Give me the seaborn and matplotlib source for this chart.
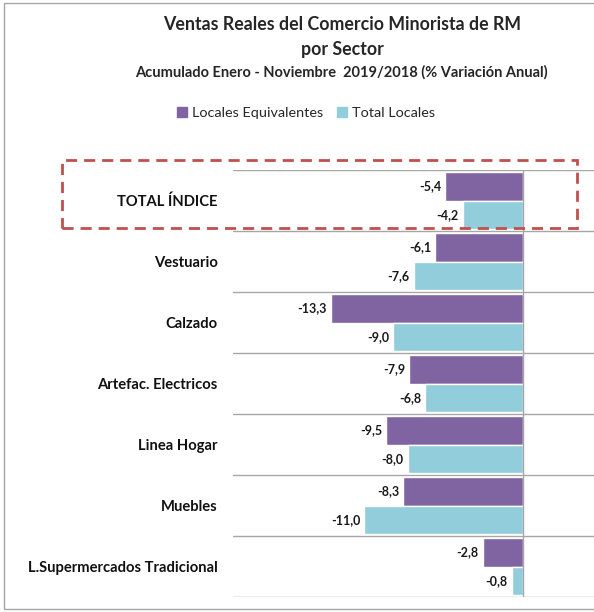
import pandas as pd
import matplotlib
matplotlib.use("Agg")
import matplotlib.pyplot as plt
from matplotlib.patches import Rectangle
import seaborn as sns

# data
sectores = ["TOTAL ÍNDICE", "Vestuario", "Calzado", "Artefac. Electricos",
            "Linea Hogar", "Muebles", "L.Supermercados Tradicional"]
locales_equivalentes = [-5.4, -6.1, -13.3, -7.9, -9.5, -8.3, -2.8]
total_locales = [-4.2, -7.6, -9.0, -6.8, -8.0, -11.0, -0.8]
series = ["Locales Equivalentes", "Total Locales"]
colores = ["#8064A2", "#92CDDC"]

df = pd.DataFrame({
    "sector": sectores * 2,
    "serie": [series[0]] * len(sectores) + [series[1]] * len(sectores),
    "valor": locales_equivalentes + total_locales,
})

sns.set_theme(style="white")
plt.rcParams["font.family"] = ["Lato", "DejaVu Sans"]

fig = plt.figure(figsize=(5.94, 6.12), dpi=100)
ax = fig.add_axes([233 / 594, 1 - 597 / 612, 1 - 233 / 594, (597 - 170) / 612])

sns.barplot(data=df, y="sector", x="valor", hue="serie", order=sectores,
            hue_order=series, palette=colores, orient="h", width=0.94,
            saturation=1, ax=ax, legend=False)

for cont in ax.containers:
    ax.bar_label(cont, labels=[f"{v.get_width():.1f}".replace(".", ",") for v in cont],
                 padding=3, fontsize=9, fontweight="bold", color="#1a1a1a")

ax.set_xlim(-20.1, 4.9)
ax.set_ylim(len(sectores) - 0.5, -0.5)
ax.set_xlabel("")
ax.set_ylabel("")
ax.set_xticks([])
ax.tick_params(axis="y", length=0, pad=11)
for lab in ax.get_yticklabels():
    lab.set_fontweight("bold")
    lab.set_fontsize(10.6)
    lab.set_color("#111111")
for s in ax.spines.values():
    s.set_visible(False)

# separators between categories and the zero line
for i in range(len(sectores) + 1):
    ax.axhline(i - 0.5, color="#a6a6a6", lw=1, zorder=0)
ax.axvline(0, color="#a6a6a6", lw=1, zorder=3)

# legend
handles = [Rectangle((0, 0), 1, 1, color=c) for c in colores]
fig.legend(handles, series, loc="center", bbox_to_anchor=(306 / 594, 1 - 113 / 612),
           ncol=2, frameon=False, fontsize=10.4, handlelength=0.7, handleheight=0.7,
           handletextpad=0.3, columnspacing=1.0)

# titles
fig.text(342 / 594, 1 - 25 / 612, "Ventas Reales del Comercio Minorista de RM",
         ha="center", va="center", fontsize=12.8, fontweight="bold")
fig.text(342 / 594, 1 - 49 / 612, "por Sector",
         ha="center", va="center", fontsize=12.8, fontweight="bold")
fig.text(341 / 594, 1 - 72 / 612, "Acumulado Enero - Noviembre  2019/2018 (% Variación Anual)",
         ha="center", va="center", fontsize=10.5, fontweight="bold")

# outer frame and highlight box
fig.add_artist(Rectangle((4 / 594, 3 / 612), 1.0, 1 - 6 / 612, transform=fig.transFigure,
                         fill=False, edgecolor="#a6a6a6", lw=1))
fig.add_artist(Rectangle((62 / 594, 1 - 228 / 612), (577 - 62) / 594, (228 - 160) / 612,
                         transform=fig.transFigure, fill=False, edgecolor="#C0504D",
                         lw=2, linestyle=(0, (4, 2.5)), zorder=10))

fig.savefig("out.png", dpi=100)
